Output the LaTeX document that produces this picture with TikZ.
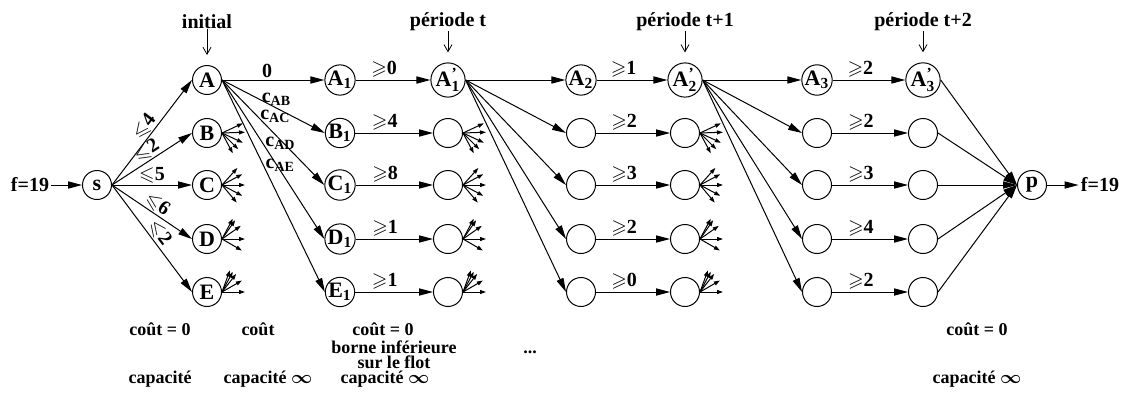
\documentclass[tikz,border=0pt]{standalone}
\usepackage{amsfonts, amssymb, amsmath}
\usepackage{fontspec}
\setmainfont{Liberation Serif}
\usetikzlibrary{arrows.meta}

\begin{document}
\begin{tikzpicture}[x=0.5pt, y=-0.5pt,
    font=\bfseries\fontsize{10}{12}\selectfont,
    state/.style={draw, circle, minimum size=14.5pt, inner sep=0pt, line width=0.5pt,
                  font=\bfseries\fontsize{11}{12}\selectfont},
    arc/.style={line width=0.5pt, -{Triangle[length=7pt, width=3.6pt]}},
    stub/.style={line width=0.5pt, -{Triangle[length=3pt, width=2pt]}},
    tag/.style={line width=0.4pt, -{Straight Barb[length=3.5pt, width=4pt]}, shorten >=5pt},
    elab/.style={inner sep=1pt},
    note/.style={font=\bfseries\fontsize{9}{9}\selectfont, inner sep=0pt}]
    \useasboundingbox (0,0) rectangle (1124,392);

    % Source and sink
    \node[state] (s) at (97,185) {s};
    \node[state] (p) at (1032,185) {p};
    \node[inner sep=1pt] (fin) at (30,185) {f=19};
    \node[inner sep=1pt] (fout) at (1100,185) {f=19};
    \draw[arc] (fin) -- (s);
    \draw[arc] (p) -- (fout);

    % Columns of nodes
    \foreach \row/\y/\lbl in {1/80/A, 2/133/B, 3/185/C, 4/239/D, 5/292/E} {
        \node[state] (n1\row) at (207,\y) {\lbl};
        \node[state] (n2\row) at (340,\y) {\lbl\textsubscript{1}};
    }
    \foreach \col/\x/\lbl in {3/448/{A$^{\text{'}}_{\text{1}}$}, 4/581/{A\textsubscript{2}},
                              5/685/{A$^{\text{'}}_{\text{2}}$}, 6/817/{A\textsubscript{3}},
                              7/923/{A$^{\text{'}}_{\text{3}}$}} {
        \node[state] (n\col1) at (\x,80) {\lbl};
        \foreach \row/\y in {2/133, 3/185, 4/239, 5/292}
            \node[state] (n\col\row) at (\x,\y) {};
    }

    % Period tags
    \foreach \col/\x/\txt in {1/207/initial, 3/448/période t, 5/685/période t+1, 7/923/période t+2} {
        \node[inner sep=0pt] (tag\col) at (\x,22) {\txt};
        \draw[tag] (tag\col) -- (n\col1);
    }

    % Source to the first column
    \foreach \row/\bnd in {1/4, 2/2, 3/5, 4/6, 5/2}
        \draw[arc] (s.east) -- node[inner sep=0.5pt, sloped, above, pos=0.5] {$\leqslant$\bnd} (n1\row.west);

    % A to the second column
    \draw[arc] (n11.east) -- node[elab, above, pos=0.44] {0} (n21.west);
    \draw[arc] (n11.east) -- node[elab, above, pos=0.53] {c\textsubscript{AB}} (n22.west);
    \draw[arc] (n11.east) -- node[elab, right, pos=0.35] {c\textsubscript{AC}} (n23.west);
    \draw[arc] (n11.east) -- node[elab, right, pos=0.4] {c\textsubscript{AD}} (n24.west);
    \draw[arc] (n11.east) -- node[elab, right, pos=0.4] {c\textsubscript{AE}} (n25.west);

    % Lower bounds inside each period
    \foreach \row/\low in {1/0, 2/4, 3/8, 4/1, 5/1}
        \draw[arc] (n2\row) -- node[elab, above, pos=0.38] {$\geqslant$\low} (n3\row);
    \foreach \row/\low in {1/1, 2/2, 3/3, 4/2, 5/0}
        \draw[arc] (n4\row) -- node[elab, above, pos=0.38] {$\geqslant$\low} (n5\row);
    \foreach \row/\low in {1/2, 2/2, 3/3, 4/4, 5/2}
        \draw[arc] (n6\row) -- node[elab, above, pos=0.38] {$\geqslant$\low} (n7\row);

    % A' nodes to the next column, last column to the sink
    \foreach \row in {1,...,5} {
        \draw[arc] (n31.east) -- (n4\row.west);
        \draw[arc] (n51.east) -- (n6\row.west);
        \draw[arc] (n7\row.east) -- (p.west);
    }

    % Fans of the other nodes
    \foreach \col in {1,3,5}
        \foreach \row/\angs in {2/{25,2,-25,-45,-62}, 3/{48,28,0,-28,-50},
                                4/{62,55,35,0,-30}, 5/{70,62,52,30,0}}
            \foreach \a in \angs
                \draw[stub] (n\col\row.east) -- ++(\a:11.5pt);

    % Notes below
    \node[note] (c1) at (160,329) {coût = 0};
    \node[note] (k1) at (160,379) {capacité};
    \node[note] (c2) at (258,329) {coût};
    \node[note] (k2) at (268,379) {capacité $\boldsymbol{\infty}$};
    \node[note] (c3) at (383,329) {coût = 0};
    \node[note, align=center, font=\bfseries\fontsize{9}{7.5}\selectfont] (b3) at (394,355) {borne inférieure\\sur le flot};
    \node[note] (k3) at (385,379) {capacité $\boldsymbol{\infty}$};
    \node[note] (dots) at (530,352) {...};
    \node[note] (c7) at (977,329) {coût = 0};
    \node[note] (k7) at (977,379) {capacité $\boldsymbol{\infty}$};
\end{tikzpicture}
\end{document}
